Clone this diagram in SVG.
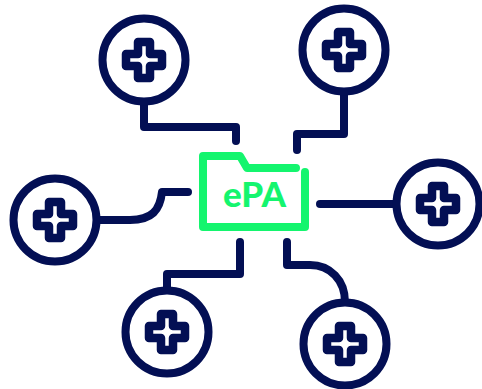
<svg xmlns="http://www.w3.org/2000/svg" width="482" height="389" viewBox="0 0 482 389">
<style>
.l{fill:none;stroke:#030f54;stroke-width:8;stroke-linecap:round;stroke-linejoin:round}
.c{fill:#fff;stroke:#030f54;stroke-width:8}
.p{fill:#fff;stroke:#030f54;stroke-width:8.5;stroke-linejoin:round}
.f{fill:none;stroke:#14f56e;stroke-width:8;stroke-linecap:round;stroke-linejoin:round}
.t{font-family:"Lato","Liberation Sans",sans-serif;font-weight:900;font-size:35px;fill:#14f56e;text-anchor:middle}
</style>
<defs>
<path id="plus" d="M-6-18H6V-6H18V6H6V18H-6V6H-18V-6H-6Z"/>
</defs>
<g id="connectors">
<path class="l" d="M144 100V127H236V141"/>
<path class="l" d="M344 90V134H297V150"/>
<path class="l" d="M320 204H400"/>
<path class="l" d="M98 220H130C152 220 160 210 162 192H188"/>
<path class="l" d="M240 242V274H167V292"/>
<path class="l" d="M287 242V265H310C330 265 345 280 345 302"/>
</g>
<g id="node-1"><circle class="c" cx="144" cy="60" r="41.500"/><use href="#plus" class="p" x="144" y="60"/></g>
<g id="node-2"><circle class="c" cx="344" cy="50" r="41.500"/><use href="#plus" class="p" x="344" y="50"/></g>
<g id="node-3"><circle class="c" cx="438" cy="204" r="41.500"/><use href="#plus" class="p" x="438" y="204"/></g>
<g id="node-4"><circle class="c" cx="55" cy="220" r="41.500"/><use href="#plus" class="p" x="55" y="220"/></g>
<g id="node-5"><circle class="c" cx="167" cy="332" r="41.500"/><use href="#plus" class="p" x="167" y="332"/></g>
<g id="node-6"><circle class="c" cx="345" cy="344" r="41.500"/><use href="#plus" class="p" x="345" y="344"/></g>
<g id="epa-folder">
<path class="f" d="M305 172V227H203V156H240L247 168H296"/>
<text class="t" x="254.500" y="207">ePA</text>
</g>
</svg>
